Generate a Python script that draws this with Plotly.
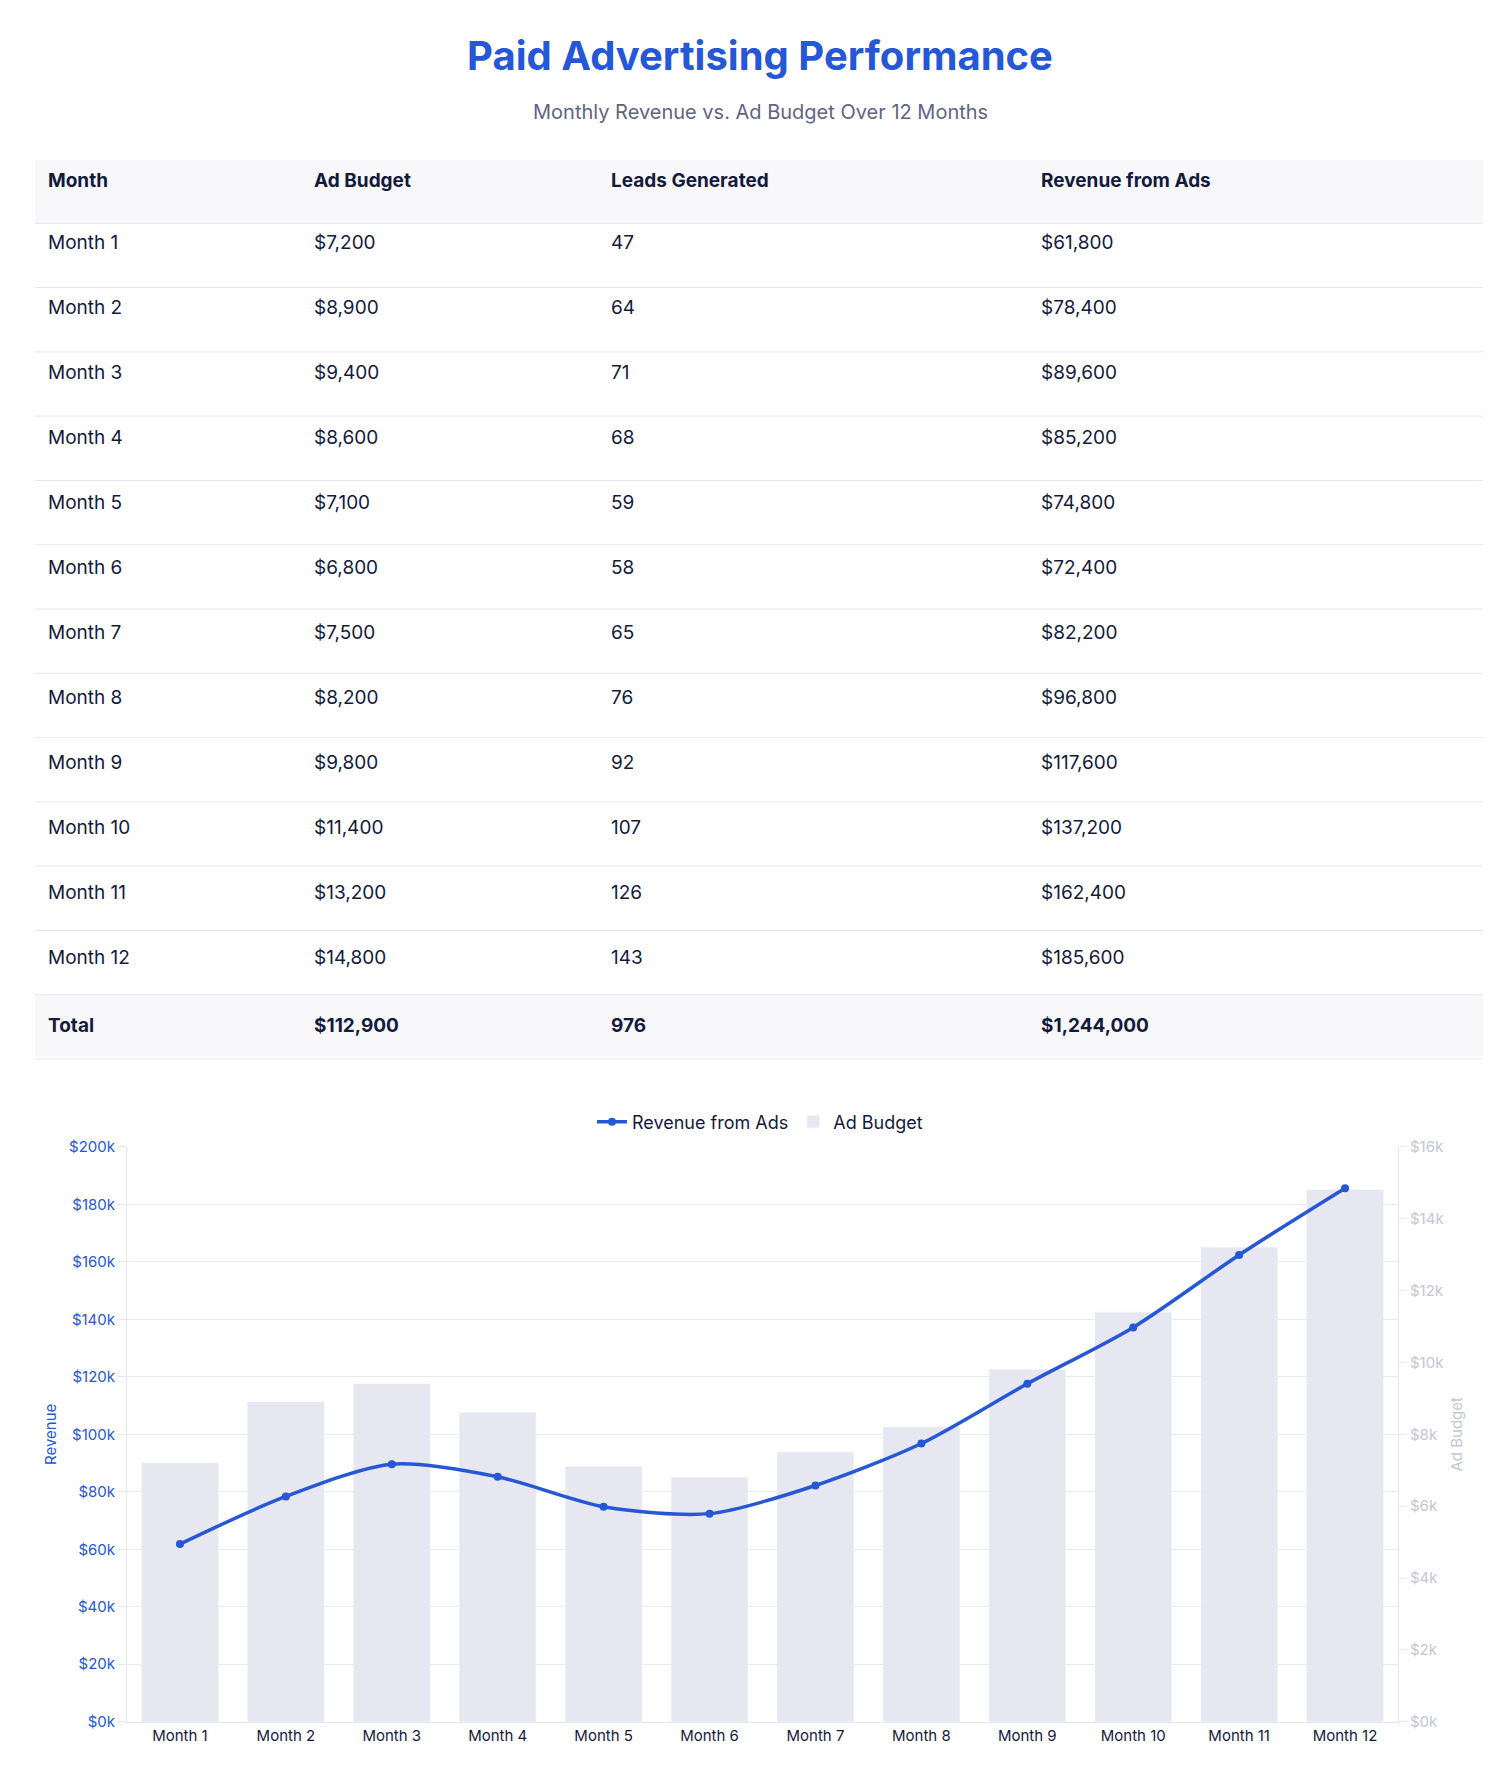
import plotly.graph_objects as go

months = [f"Month {i}" for i in range(1, 13)]
budget = [7200, 8900, 9400, 8600, 7100, 6800, 7500, 8200, 9800, 11400, 13200, 14800]
leads = [47, 64, 71, 68, 59, 58, 65, 76, 92, 107, 126, 143]
revenue = [61800, 78400, 89600, 85200, 74800, 72400, 82200, 96800, 117600, 137200, 162400, 185600]

W, H = 1504, 1790
S = 1.14
BLUE = "#2557d6"
GREY = "#e6e7f0"
DARK = "#141a3c"

col_month = months + ["<b>Total</b>"]
col_budget = [f"${v:,}" for v in budget] + [f"<b>${sum(budget):,}</b>"]
col_leads = [str(v) for v in leads] + [f"<b>{sum(leads)}</b>"]
col_rev = [f"${v:,}" for v in revenue] + [f"<b>${sum(revenue):,}</b>"]

def py(px):
    return 1 - px / H

fig = go.Figure()
fig.add_trace(go.Table(
    domain=dict(x=[32 / W, 1480 / W], y=[py(1052), py(145)]),
    columnwidth=[266, 297, 430, 455],
    header=dict(values=["<b>Month</b>", "<b>Ad Budget</b>", "<b>Leads Generated</b>", "<b>Revenue from Ads</b>"],
                fill_color="rgba(0,0,0,0)", line=dict(color="rgba(0,0,0,0)", width=0), align="left",
                font=dict(family="Inter", size=19, color=DARK), height=65),
    cells=dict(values=[col_month, col_budget, col_leads, col_rev],
               fill_color="rgba(0,0,0,0)", line=dict(color="rgba(0,0,0,0)", width=0), align="left",
               font=dict(family="Inter", size=19, color=DARK), height=65),
))

shapes = []
x0, x1 = 27 / W, 1475 / W
shapes.append(dict(type="rect", xref="paper", yref="paper", x0=x0, x1=x1, y0=py(126 * S), y1=py(182 * S),
                   fillcolor="#f8f8fb", line_width=0, layer="below"))
shapes.append(dict(type="rect", xref="paper", yref="paper", x0=x0, x1=x1, y0=py(866 * S), y1=py(921 * S),
                   fillcolor="#f8f8fb", line_width=0, layer="below"))
for k in range(14):
    yy = py((182 + 57 * k) * S)
    shapes.append(dict(type="line", xref="paper", yref="paper", x0=x0, x1=x1, y0=yy, y1=yy,
                       line=dict(color="#e6e6ee", width=1), layer="below"))

fig.add_trace(go.Bar(x=months, y=budget, name="Ad Budget", marker_color=GREY,
                     width=0.72, yaxis="y", xaxis="x"))
fig.add_trace(go.Scatter(x=months, y=revenue, name="Revenue from Ads", mode="lines+markers",
                         line=dict(color=BLUE, width=3.5, shape="spline", smoothing=0.8),
                         marker=dict(size=8, color=BLUE), yaxis="y2", xaxis="x"))

rev_ticks = list(range(0, 200001, 20000))
bud_ticks = list(range(0, 16001, 2000))
fig.update_layout(
    width=W, height=H, margin=dict(l=0, r=0, t=0, b=0),
    paper_bgcolor="white", plot_bgcolor="white",
    font=dict(family="Inter", color=DARK),
    shapes=shapes,
    title=dict(text="<b>Paid Advertising Performance</b>", x=0.5, xanchor="center",
               y=py(48), yanchor="middle", font=dict(size=40, color=BLUE)),
    annotations=[dict(text="Monthly Revenue vs. Ad Budget Over 12 Months", xref="paper", yref="paper",
                      x=0.5, y=py(95), yanchor="middle", showarrow=False,
                      font=dict(size=20, color="#5f6484"))],
    xaxis=dict(domain=[119 / W, 1390 / W], anchor="y", range=[-0.5, 11.5], showgrid=False, showline=True,
               linecolor="#e6e6ee", tickfont=dict(size=15, color=DARK), ticks=""),
    yaxis=dict(domain=[py(1722), py(1141)], side="right", anchor="x", range=[0, 16000],
               tickvals=bud_ticks, ticktext=[f"${v // 1000}k" for v in bud_ticks],
               showgrid=False, showline=True, linecolor="#e6e6ee",
               ticks="outside", ticklen=8, tickcolor="#e6e6ee",
               tickfont=dict(size=15, color="#c4c6d4"), zeroline=False,
               title=dict(text="Ad Budget", font=dict(size=15, color="#c4c6d4"), standoff=8)),
    yaxis2=dict(overlaying="y", side="left", anchor="x", range=[0, 200000],
                tickvals=rev_ticks, ticktext=[f"${v // 1000}k" for v in rev_ticks],
                showgrid=True, gridcolor="#e9e9f0",
                showline=True, linecolor="#e6e6ee", ticks="outside", ticklen=8, tickcolor="#e6e6ee",
                tickfont=dict(size=15, color=BLUE), zeroline=False,
                title=dict(text="Revenue", font=dict(size=15, color=BLUE), standoff=8)),
    legend=dict(orientation="h", x=0.5, xanchor="center", y=py(1116), yanchor="middle",
                font=dict(size=18, color=DARK), traceorder="reversed"),
    barmode="overlay",
)
fig.write_html("out.html")
